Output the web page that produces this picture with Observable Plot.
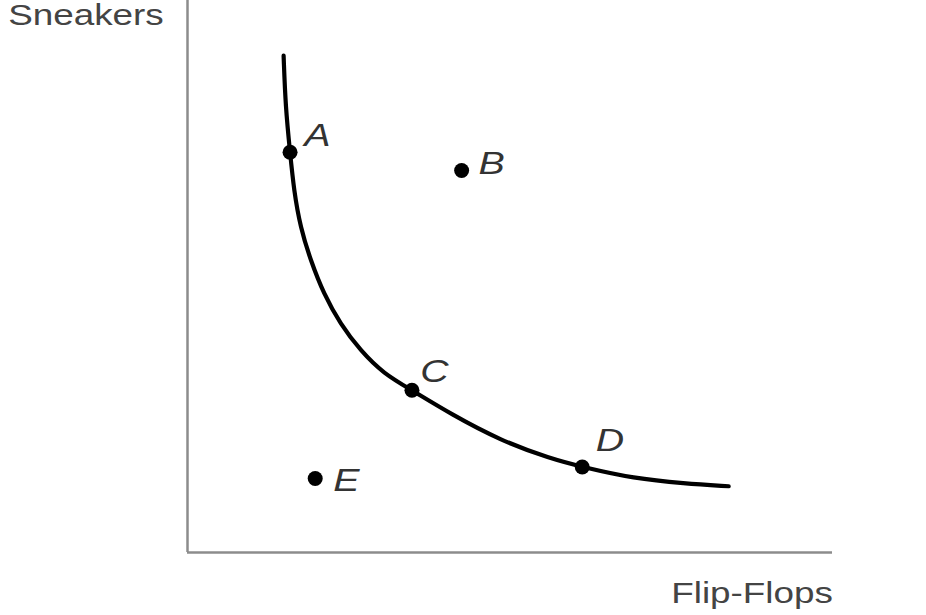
<!DOCTYPE html>
<html>
<head>
<meta charset="utf-8">
<script src="https://cdn.jsdelivr.net/npm/d3@7"></script>
<script src="https://cdn.jsdelivr.net/npm/@observablehq/plot@0.6"></script>
<style>
  html, body { margin: 0; padding: 0; background: #fff; }
  #chart svg { display: block; }
</style>
</head>
<body>
<div id="chart"></div>
<script>
// Indifference curve (Flip-Flops on x, Sneakers on y), arbitrary units 0..10
const curveX = [1.49, 1.52, 1.59, 1.65, 1.75, 1.91, 2.11, 2.37, 2.68, 3.04, 3.48, 4.08, 4.85, 5.63, 6.12, 6.92, 7.70, 8.39];
const curveY = [9.00, 8.07, 7.25, 6.56, 5.89, 5.29, 4.69, 4.14, 3.66, 3.24, 2.94, 2.51, 2.03, 1.70, 1.55, 1.34, 1.25, 1.20];

// Bundles
const pointNames = ["A", "B", "C", "D", "E"];
const pointX = [1.59, 4.25, 3.48, 6.12, 1.98];
const pointY = [7.25, 6.92, 2.94, 1.55, 1.34];

// Label anchor positions (data units)
const labelX = [1.81, 4.51, 3.61, 6.33, 2.26];
const labelY = [7.37, 6.85, 3.08, 1.83, 1.12];

// Axis titles
const axisTitles = ["Sneakers", "Flip-Flops"];
const axisTitleX = [-2.78, 7.50];
const axisTitleY = [9.55, -0.92];

const curve = curveX.map((x, i) => ({x, y: curveY[i]}));
const points = pointNames.map((name, i) => ({name, x: pointX[i], y: pointY[i]}));
const labels = pointNames.map((name, i) => ({name, x: labelX[i], y: labelY[i]}));
const titles = axisTitles.map((name, i) => ({name, x: axisTitleX[i], y: axisTitleY[i]}));

const chart = Plot.plot({
  width: 926,
  height: 615,
  marginLeft: 187,
  marginRight: 94,
  marginTop: 0,
  marginBottom: 63,
  x: {domain: [0, 10], axis: null},
  y: {domain: [0, 10], axis: null},
  style: {background: "#fff", overflow: "visible"},
  marks: [
    Plot.ruleX([0], {y1: 0, y2: 10, stroke: "#8c8c8c", strokeWidth: 2.5}),
    Plot.ruleY([0], {x1: 0, x2: 10, stroke: "#8c8c8c", strokeWidth: 2.5}),
    Plot.line(curve, {x: "x", y: "y", curve: "basis", stroke: "#000", strokeWidth: 4.2, strokeLinecap: "round"}),
    Plot.dot(points, {x: "x", y: "y", r: 7.5, fill: "#000", stroke: "none"}),
    Plot.text(labels, {x: "x", y: "y", text: "name", textAnchor: "start", lineAnchor: "bottom",
      fontSize: 31, fontStyle: "italic", fill: "#333", fontFamily: "Liberation Sans, Arial, sans-serif", className: "stretch"}),
    Plot.text(titles, {x: "x", y: "y", text: "name", textAnchor: "start", lineAnchor: "bottom",
      fontSize: 29, fill: "#444", fontFamily: "Liberation Sans, Arial, sans-serif", className: "stretch"})
  ]
});

document.getElementById("chart").appendChild(chart);

// widen glyphs horizontally to match the reference
d3.select(chart).selectAll("g.stretch text").each(function() {
  const w = this.getComputedTextLength();
  this.setAttribute("textLength", (w * 1.27).toFixed(1));
  this.setAttribute("lengthAdjust", "spacingAndGlyphs");
});
</script>
</body>
</html>
